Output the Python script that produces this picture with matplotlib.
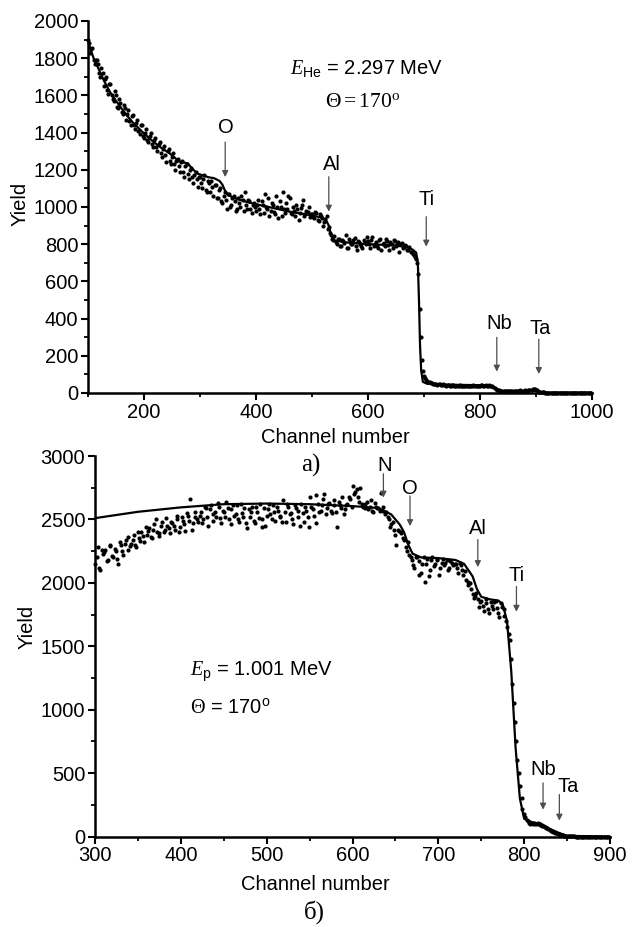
import numpy as np
import matplotlib
matplotlib.use("Agg")
import matplotlib.pyplot as plt
from matplotlib.ticker import MultipleLocator

plt.rcParams['font.family'] = ['Liberation Sans', 'DejaVu Sans']
plt.rcParams['mathtext.fontset'] = 'custom'
plt.rcParams['mathtext.rm'] = 'Liberation Serif'
plt.rcParams['mathtext.it'] = 'Liberation Serif:italic'
plt.rcParams['mathtext.sf'] = 'Liberation Sans'

# ---------------- data: panel a (He, 2.297 MeV) ----------------
top_ch_start, top_ch_step = 100, 4
top_yield = [
    1900, 1830, 1855, 1770, 1790, 1720, 1745, 1650, 1700, 1610, 1660, 1580, 1625, 1540, 1580, 1510, 1550, 1470, 1520, 1440, 1495, 1420, 1470, 1390, 1440,
    1370, 1420, 1350, 1400, 1320, 1370, 1300, 1350, 1270, 1330, 1240, 1310, 1230, 1290, 1200, 1260, 1190, 1250, 1160, 1230, 1150, 1210, 1130, 1190, 1110,
    1160, 1100, 1170, 1080, 1130, 1140, 1060, 1120, 1050, 1100, 1020, 1080, 990, 1070, 1010, 1060, 980, 1050, 1000, 1040, 1080, 990, 1030, 970, 1020,
    980, 1040, 960, 1010, 1070, 990, 950, 1020, 975, 1060, 940, 1000, 1080, 970, 990, 1050, 960, 980, 1010, 930, 995, 1040, 960, 975, 945,
    960, 940, 970, 925, 950, 900, 935, 880, 860, 830, 845, 800, 830, 790, 815, 850, 780, 810, 800, 835, 770, 810, 790, 825, 800,
    815, 780, 840, 800, 790, 820, 770, 805, 830, 795, 810, 780, 815, 800, 760, 805, 785, 790, 770, 760, 745, 730, 700, 450, 180,
    90, 70, 60, 55, 50, 48, 45, 50, 42, 45, 40, 44, 38, 42, 40, 36, 42, 38, 40, 35, 40, 38, 42, 36, 40,
    40, 42, 38, 40, 42, 35, 30, 20, 15, 12, 10, 12, 10, 12, 10, 12, 12, 10, 14, 12, 14, 12, 16, 18, 20,
    18, 10, 5, 3, 2, 2, 1, 2, 1, 2, 1, 1, 2, 1, 1, 2, 1, 1, 1, 2, 1, 1, 1, 1, 1,
]
top_ch2_start = 102
top_yield2 = [
    1880, 1850, 1790, 1790, 1770, 1700, 1720, 1690, 1630, 1660, 1600, 1570, 1600, 1530, 1560, 1500, 1530, 1500, 1460, 1490, 1440, 1450, 1410, 1440, 1380,
    1400, 1360, 1380, 1340, 1360, 1320, 1340, 1290, 1310, 1280, 1300, 1250, 1270, 1230, 1250, 1220, 1240, 1190, 1220, 1180, 1200, 1160, 1170, 1150, 1160,
    1130, 1150, 1090, 1140, 1080, 1110, 1120, 1050, 1090, 1030, 1060, 1040, 1070, 1000, 1050, 1030, 990, 1020, 1060, 980, 1010, 1040, 990, 1010, 1000,
    1010, 990, 1030, 970, 1000, 1050, 980, 1010, 960, 1000, 1030, 950, 990, 1020, 1060, 970, 1000, 950, 990, 970, 1010, 950, 980, 1000, 960,
    945, 975, 930, 960, 940, 920, 950, 890, 850, 820, 810, 830, 790, 820, 805, 780, 830, 800, 820, 790, 815, 800, 780, 810, 840,
    800, 825, 790, 810, 780, 830, 800, 790, 815, 770, 800, 825, 790, 810, 800, 780, 795, 770, 785, 760, 740, 720, 640, 300, 120,
    80, 65, 58, 52, 50, 46, 48, 44, 46, 42, 42, 40, 41, 39, 40, 38, 40, 39, 37, 40, 38, 40, 37, 39, 38,
    41, 39, 42, 38, 40, 38, 25, 18, 14, 11, 12, 10, 11, 10, 12, 11, 10, 12, 13, 12, 13, 14, 17, 20, 22,
    14, 8, 4, 3, 2, 1, 2, 1, 1, 1, 2, 1, 1, 1, 2, 1, 1, 1, 1, 1, 2, 1, 1, 1, 1,
]
top_sim_ch = [100, 110, 120, 130, 140, 150, 160, 170, 180, 190, 200, 215, 230, 245, 255, 262, 270, 278,
              285, 295, 305, 315, 325, 335, 340, 345, 350, 360, 380, 400, 430, 460, 490, 515, 525, 530,
              534, 540, 560, 600, 640, 670, 680, 686, 689, 691, 693, 695, 698, 705, 740, 800, 815, 825,
              832, 840, 880, 895, 902, 908, 915, 1000]
top_sim_y = [1890, 1800, 1735, 1670, 1615, 1570, 1530, 1490, 1455, 1425, 1395, 1355, 1320, 1290, 1265, 1245, 1240, 1235,
             1210, 1180, 1170, 1160, 1155, 1140, 1120, 1085, 1065, 1050, 1030, 1015, 995, 975, 960, 945, 930, 900,
             850, 820, 810, 800, 795, 785, 770, 755, 700, 500, 250, 120, 60, 50, 45, 42, 40, 30,
             15, 10, 10, 14, 12, 4, 2, 2]
top_labels = ['O', 'Al', 'Ti', 'Nb', 'Ta']
top_label_xy = [(347, 1430), (535, 1226), (704, 1038), (835, 376), (907, 349)]
top_arrows = [(345, 1349, 1161), (530, 1163, 975), (704, 948, 787), (830, 299, 115), (905, 289, 102)]

# ---------------- data: panel b (p, 1.001 MeV) ----------------
bot_ch_start, bot_ch_step = 300, 3
bot_yield = [
    2150, 2280, 2100, 2230, 2260, 2180, 2300, 2200, 2250, 2150,
    2300, 2220, 2340, 2260, 2310, 2380, 2280, 2350, 2400, 2320,
    2380, 2430, 2350, 2460, 2400, 2370, 2480, 2420, 2450, 2390,
    2470, 2420, 2500, 2440, 2490, 2410, 2530, 2660, 2470, 2520,
    2480, 2560, 2500, 2590, 2450, 2610, 2540, 2520, 2600, 2470,
    2560, 2640, 2500, 2580, 2530, 2610, 2480, 2550, 2590, 2430,
    2520, 2600, 2470, 2560, 2620, 2500, 2450, 2580, 2540, 2610,
    2490, 2570, 2530, 2650, 2480, 2600, 2550, 2460, 2590, 2520,
    2620, 2480, 2570, 2440, 2600, 2530, 2690, 2560, 2610, 2700,
    2590, 2630, 2550, 2650, 2440, 2610, 2680, 2580, 2620, 2660,
    2760, 2720, 2680, 2750, 2600, 2620, 2580, 2650, 2560, 2600,
    2590, 2710, 2570, 2560, 2500, 2460, 2420, 2300, 2410, 2390,
    2340, 2250, 2220, 2180, 2120, 2200, 2060, 2150, 2010, 2190,
    2100, 2200, 2150, 2180, 2120, 2190, 2160, 2100, 2170, 2140,
    2150, 2080, 2140, 2060, 2020, 1980, 1950, 1880, 1920, 1810,
    1860, 1780, 1840, 1760, 1820, 1850, 1800, 1730, 1810, 1740,
    1650, 1550, 1200, 900, 600, 400, 220, 150, 120, 100,
    100, 95, 110, 90, 85, 70, 60, 45, 35, 25,
    20, 10, 5, 3, 2, 1, 1, 0, 0, 0,
    0, 0, 0, 0, 0, 0, 0, 0, 0, 0,
]
bot_ch2_start = 302
bot_yield2 = [
    2200, 2120, 2260, 2240, 2170, 2290, 2210, 2270, 2190, 2320,
    2250, 2310, 2360, 2290, 2340, 2300, 2400, 2330, 2370, 2440,
    2410, 2360, 2420, 2500, 2390, 2450, 2400, 2510, 2430, 2480,
    2450, 2530, 2400, 2520, 2460, 2550, 2490, 2420, 2560, 2500,
    2530, 2470, 2600, 2520, 2580, 2490, 2560, 2630, 2510, 2570,
    2520, 2590, 2460, 2610, 2540, 2500, 2620, 2520, 2470, 2580,
    2560, 2490, 2600, 2510, 2440, 2590, 2530, 2620, 2500, 2560,
    2600, 2520, 2480, 2560, 2620, 2540, 2500, 2610, 2570, 2450,
    2550, 2600, 2520, 2680, 2580, 2470, 2620, 2570, 2660, 2540,
    2620, 2570, 2610, 2560, 2640, 2590, 2540, 2610, 2680, 2600,
    2700, 2740, 2640, 2620, 2590, 2640, 2600, 2570, 2630, 2590,
    2570, 2600, 2540, 2520, 2440, 2480, 2380, 2420, 2400, 2350,
    2280, 2320, 2200, 2140, 2200, 2170, 2080, 2200, 2150, 2050,
    2180, 2130, 2190, 2060, 2160, 2140, 2180, 2120, 2160, 2150,
    2120, 2160, 2100, 2090, 2010, 2000, 1910, 1900, 1870, 1850,
    1820, 1870, 1790, 1850, 1790, 1860, 1760, 1840, 1790, 1700,
    1600, 1400, 1050, 750, 500, 300, 180, 130, 110, 110,
    105, 100, 95, 80, 75, 65, 50, 40, 30, 22,
    15, 8, 4, 2, 1, 1, 0, 0, 0, 0,
    0, 0, 0, 0, 0, 0, 0, 0, 0, 0,
]
bot_sim_ch = [300, 350, 400, 450, 500, 550, 600, 630, 645, 655, 660, 665, 670, 680, 700, 720, 730,
              740, 745, 750, 760, 770, 775, 780, 785, 790, 795, 800, 810, 820, 830, 840, 850, 900]
bot_sim_y = [2510, 2560, 2595, 2620, 2625, 2620, 2605, 2590, 2540, 2460, 2400, 2300, 2230, 2200, 2195, 2180, 2150,
             2050, 1950, 1890, 1870, 1860, 1830, 1700, 1300, 700, 300, 140, 110, 100, 60, 30, 5, 0]
bot_labels = ['N', 'O', 'Al', 'Ti', 'Nb', 'Ta']
bot_label_xy = [(637, 2928), (667, 2743), (746, 2426), (791, 2055), (822, 529), (851, 397)]
bot_arrows = [(636, 2860, 2672), (667, 2685, 2447), (746, 2341, 2124), (791, 1971, 1772), (822, 423, 212), (841, 331, 125)]

# ---------------- figure ----------------
W, H = 632, 927
fig = plt.figure(figsize=(W / 100, H / 100), dpi=100)
ax1 = fig.add_axes([88 / W, 1 - 393 / H, 504 / W, 372 / H])
ax2 = fig.add_axes([95 / W, 1 - 836.5 / H, 515 / W, 380.5 / H])

FS = 14.5


def style(ax):
    for s in ['top', 'right']:
        ax.spines[s].set_visible(False)
    for s in ['left', 'bottom']:
        ax.spines[s].set_linewidth(1.8)
    ax.tick_params(which='major', direction='out', length=5, width=1.5, labelsize=FS, pad=2)
    ax.tick_params(which='minor', direction='out', length=3, width=1.3)


def draw(ax, ch_start, ch_step, ydata, ch2_start, ydata2, sim_x, sim_y, labels, label_xy, arrows):
    for start, yd in ((ch_start, ydata), (ch2_start, ydata2)):
        ch = start + ch_step * np.arange(len(yd))
        ax.plot(ch, yd, 'o', color='black', markersize=3.0, markeredgewidth=0, clip_on=False, zorder=3)
    ax.plot(sim_x, sim_y, '-', color='black', linewidth=1.6, zorder=4)
    for lab, (x, y) in zip(labels, label_xy):
        ax.text(x, y, lab, ha='center', va='center', fontsize=FS)
    for (x, y0, y1) in arrows:
        ax.annotate('', xy=(x, y1), xytext=(x, y0),
                    arrowprops=dict(arrowstyle='-|>', color='0.3', lw=0.9,
                                    mutation_scale=9, shrinkA=0, shrinkB=0))


draw(ax1, top_ch_start, top_ch_step, top_yield, top_ch2_start, top_yield2,
     top_sim_ch, top_sim_y, top_labels, top_label_xy, top_arrows)
ax1.set_xlim(100, 1000)
ax1.set_ylim(0, 2000)
ax1.xaxis.set_major_locator(MultipleLocator(200))
ax1.xaxis.set_minor_locator(MultipleLocator(100))
ax1.yaxis.set_major_locator(MultipleLocator(200))
ax1.yaxis.set_minor_locator(MultipleLocator(100))
style(ax1)
ax1.text(461, 1747, r'$E_{\mathsf{He}}$ = 2.297 MeV', ha='left', va='center', fontsize=FS)
ax1.text(591, 1565, r'$\Theta = 170^{\mathrm{o}}$', ha='center', va='center', fontsize=FS + 1)

draw(ax2, bot_ch_start, bot_ch_step, bot_yield, bot_ch2_start, bot_yield2,
     bot_sim_ch, bot_sim_y, bot_labels, bot_label_xy, bot_arrows)
ax2.set_xlim(300, 900)
ax2.set_ylim(0, 3000)
ax2.xaxis.set_major_locator(MultipleLocator(100))
ax2.xaxis.set_minor_locator(MultipleLocator(50))
ax2.yaxis.set_major_locator(MultipleLocator(500))
ax2.yaxis.set_minor_locator(MultipleLocator(250))
style(ax2)
ax2.text(411, 1298, r'$E_{\mathsf{p}}$ = 1.001 MeV', ha='left', va='center', fontsize=FS)
ax2.text(411, 1009, r'$\Theta$ = 170$^{\mathsf{o}}$', ha='left', va='center', fontsize=FS)

# axis labels and panel captions
fig.text(335 / W, 1 - 438 / H, 'Channel number', ha='center', va='center', fontsize=FS)
fig.text(20 / W, 1 - 204 / H, 'Yield', ha='center', va='center', rotation=90, fontsize=FS)
fig.text(311 / W, 1 - 465 / H, 'а)', ha='center', va='center', fontsize=18, family='Liberation Serif')
fig.text(315 / W, 1 - 884 / H, 'Channel number', ha='center', va='center', fontsize=FS)
fig.text(27 / W, 1 - 627 / H, 'Yield', ha='center', va='center', rotation=90, fontsize=FS)
fig.text(314 / W, 1 - 912 / H, 'б)', ha='center', va='center', fontsize=18, family='Liberation Serif')

fig.savefig('out.png', dpi=100)
